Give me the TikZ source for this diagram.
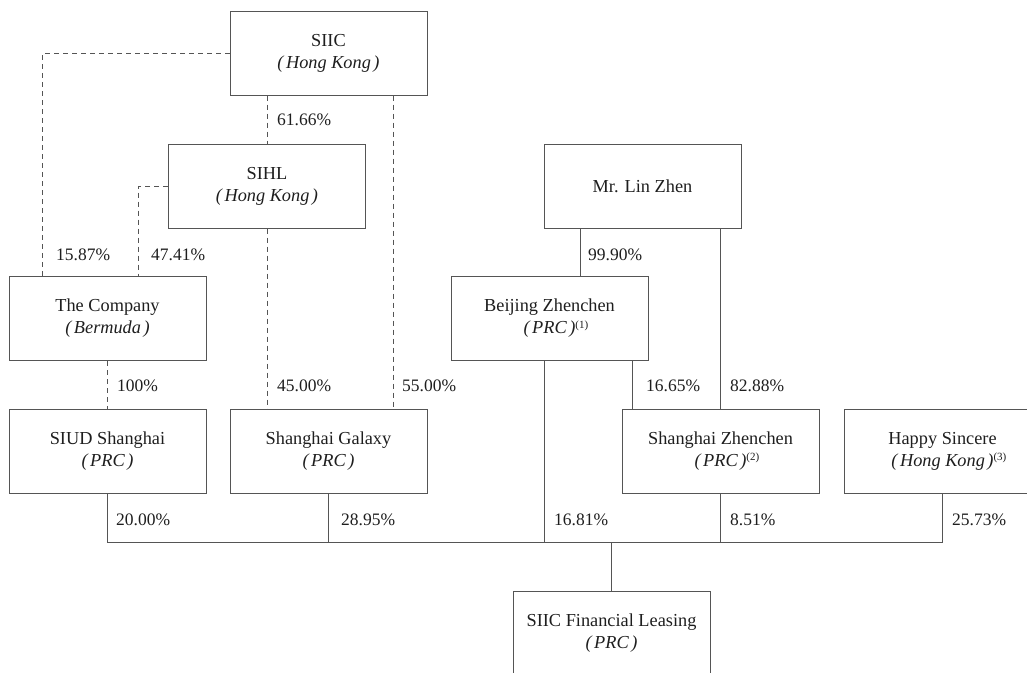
\documentclass[tikz,border=0pt]{standalone}
\usepackage{fontspec}
\setmainfont{Liberation Serif}
\usetikzlibrary{positioning,calc}
\definecolor{chline}{HTML}{555555}
\definecolor{chtext}{HTML}{1E1E1E}
\newcommand{\loc}[1]{\textit{(\kern2.5pt#1\kern2.5pt)}}
\newcommand{\fnote}[1]{\rlap{\raisebox{0.7ex}{\fontsize{11}{11}\selectfont(#1)}}}

\begin{document}
\begin{tikzpicture}[x=1pt,y=-1pt,
  entity/.style={draw=chline,line width=1pt,minimum width=197pt,minimum height=84pt,inner sep=0pt,align=center,text=chtext,font=\fontsize{18.3}{22}\selectfont},
  pct/.style={anchor=west,inner sep=0pt,text=chtext,font=\fontsize{17.5}{20}\selectfont},
  held/.style={draw=chline,line width=1pt},
  indirect/.style={held,dash pattern=on 5pt off 4pt}]
  \useasboundingbox (0,0) rectangle (1027,672);
  \clip (0,0) rectangle (1027,672);
  % owners
  \node[entity] (siic) at (328.5,53) {SIIC\\\loc{Hong Kong}};
  \node[entity] (sihl) at (267,186) {SIHL\\\loc{Hong Kong}};
  \node[entity] (linzhen) at (642.5,186) {Mr. Lin Zhen};
  \node[entity] (company) at (107.5,318.5) {The Company\\\loc{Bermuda}};
  \node[entity] (beijing) at (549.5,318.5) {Beijing Zhenchen\\\loc{PRC}\fnote{1}};
  % shareholders of the leasing company
  \node[entity] (siud) at (107.5,451) {SIUD Shanghai\\\loc{PRC}};
  \node[entity] (galaxy) at (328.5,451) {Shanghai Galaxy\\\loc{PRC}};
  \node[entity] (shzc) at (720.5,451) {Shanghai Zhenchen\\\loc{PRC}\fnote{2}};
  \node[entity] (happy) at (942.5,451) {Happy Sincere\\\loc{Hong Kong}\fnote{3}};
  \node[entity] (leasing) at (611.5,633) {SIIC Financial Leasing\\\loc{PRC}};
  \coordinate (bus) at (611.5,542);
  % dashed holdings
  \draw[indirect] (siic.west) -| ([xshift=34pt]company.north west);
  \draw[indirect] (sihl.west) -| ([xshift=130pt]company.north west);
  \draw[indirect] (siic.south -| sihl.north) -- (sihl.north);
  \draw[indirect] (sihl.south) -- (sihl.south |- galaxy.north);
  \draw[indirect] ([xshift=-34pt]siic.south east) -- ([xshift=-34pt]siic.south east |- galaxy.north);
  \draw[indirect] (company.south) -- (siud.north);
  % solid holdings
  \draw[held] ([xshift=37pt]linzhen.south west) -- ([xshift=37pt]linzhen.south west |- beijing.north);
  \draw[held] (shzc.north) -- (shzc.north |- linzhen.south);
  \draw[held] ([xshift=11pt]shzc.north west) -- ([xshift=11pt]shzc.north west |- beijing.south);
  \draw[held] (siud.south) |- (happy.south |- bus) -- (happy.south);
  \foreach \n in {galaxy,shzc}
    \draw[held] (\n.south) -- (\n.south |- bus);
  \draw[held] ([xshift=94pt]beijing.south west) -- ([xshift=94pt]beijing.south west |- bus);
  \draw[held] (bus) -- (leasing.north);
  % percentages
  \node[pct] (p6166) at (277,120) {61.66\%};
  \node[pct] (p1587) at (56,255) {15.87\%};
  \node[pct] (p4741) at (151,255) {47.41\%};
  \node[pct] (p9990) at (588,255) {99.90\%};
  \node[pct] (p100) at (117,386) {100\%};
  \node[pct] (p4500) at (277,386) {45.00\%};
  \node[pct] (p5500) at (402,386) {55.00\%};
  \node[pct] (p1665) at (646,386) {16.65\%};
  \node[pct] (p8288) at (730,386) {82.88\%};
  \node[pct] (p2000) at (116,520) {20.00\%};
  \node[pct] (p2895) at (341,520) {28.95\%};
  \node[pct] (p1681) at (554,520) {16.81\%};
  \node[pct] (p0851) at (730,520) {8.51\%};
  \node[pct] (p2573) at (952,520) {25.73\%};
\end{tikzpicture}
\end{document}
